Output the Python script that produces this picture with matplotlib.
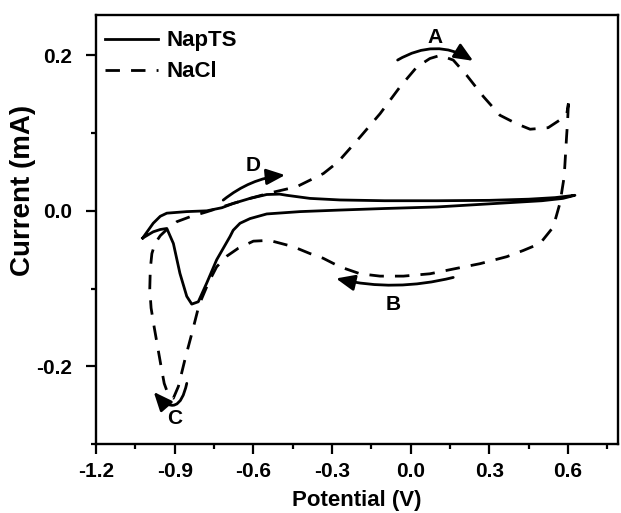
import matplotlib
matplotlib.use("Agg")
import matplotlib.pyplot as plt
from matplotlib.ticker import MultipleLocator, FormatStrFormatter

plt.rcParams['font.family'] = ['Liberation Sans', 'DejaVu Sans']
plt.rcParams['font.weight'] = 'bold'
plt.rcParams['axes.unicode_minus'] = False

# NapTS (solid) CV loop: upper branch left->right, lower branch right->left
napts_x = [-1.022, -0.982, -0.955, -0.93, -0.854, -0.778, -0.72, -0.677, -0.613, -0.549, -0.50, -0.473,
           -0.384, -0.27, -0.10, 0.10, 0.30, 0.45, 0.55, 0.626,
           0.58, 0.50, 0.30, 0.10, -0.10, -0.27, -0.422, -0.549, -0.613, -0.651, -0.677, -0.689,
           -0.74, -0.778, -0.81, -0.835, -0.854, -0.88, -0.905, -0.93, -0.955, -0.982, -1.022]
napts_y = [-0.035, -0.016, -0.007, -0.003, -0.001, 0.000, 0.004, 0.0095, 0.016, 0.021, 0.0215, 0.020,
           0.016, 0.014, 0.013, 0.013, 0.0135, 0.015, 0.017, 0.020,
           0.016, 0.013, 0.009, 0.005, 0.003, 0.001, -0.001, -0.004, -0.010, -0.016, -0.025, -0.033,
           -0.063, -0.093, -0.117, -0.120, -0.110, -0.0805, -0.042, -0.0227, -0.024, -0.027, -0.035]

# NaCl (dashed) CV loop: from right vertex down, cathodic sweep leftwards, anodic sweep rightwards
nacl_x = [0.601, 0.598, 0.594, 0.585, 0.569, 0.543, 0.493, 0.429, 0.366, 0.264, 0.175, 0.073, -0.028,
          -0.117, -0.193, -0.27, -0.334, -0.384, -0.449, -0.539, -0.60, -0.657, -0.70, -0.74, -0.772,
          -0.807, -0.834, -0.86, -0.886, -0.905, -0.925, -0.94, -0.952, -0.965, -0.978, -0.99, -0.995,
          -0.993, -0.987, -0.975, -0.955, -0.93, -0.892, -0.842, -0.778, -0.72, -0.677, -0.613, -0.537,
          -0.435, -0.333, -0.277, -0.193, -0.117, -0.041, 0.023, 0.073, 0.112, 0.162, 0.213, 0.277,
          0.34, 0.404, 0.455, 0.524, 0.569, 0.595, 0.601]
nacl_y = [0.138, 0.115, 0.095, 0.044, 0.010, -0.021, -0.042, -0.051, -0.059, -0.068, -0.074, -0.081, -0.084,
          -0.084, -0.081, -0.072, -0.061, -0.055, -0.046, -0.038, -0.039, -0.048, -0.058, -0.072, -0.093,
          -0.121, -0.157, -0.190, -0.226, -0.241, -0.236, -0.222, -0.200, -0.175, -0.150, -0.125, -0.100,
          -0.075, -0.055, -0.042, -0.032, -0.024, -0.014, -0.0077, -0.0013, 0.005, 0.0095, 0.016, 0.023,
          0.031, 0.048, 0.063, 0.095, 0.125, 0.1595, 0.185, 0.196, 0.200, 0.194, 0.1745, 0.147,
          0.123, 0.112, 0.105, 0.107, 0.117, 0.125, 0.138]

series_labels = ['NapTS', 'NaCl']
xticks = [-1.2, -0.9, -0.6, -0.3, 0.0, 0.3, 0.6]
yticks = [-0.2, 0.0, 0.2]

fig = plt.figure(figsize=(6.21, 5.13), dpi=100)
ax = fig.add_axes([0.1546, 0.1345, 0.8405, 0.8363])

ax.plot(napts_x, napts_y, color='black', lw=2.0, label=series_labels[0])
ax.plot(nacl_x, nacl_y, color='black', lw=2.0, linestyle=(0, (5.2, 4.0)), label=series_labels[1])

ax.set_xlim(-1.2, 0.79)
ax.set_ylim(-0.3, 0.252)
ax.set_xticks(xticks)
ax.set_yticks(yticks)
ax.xaxis.set_minor_locator(MultipleLocator(0.15))
ax.yaxis.set_minor_locator(MultipleLocator(0.1))
ax.xaxis.set_major_formatter(FormatStrFormatter('%.1f'))
ax.yaxis.set_major_formatter(FormatStrFormatter('%.1f'))
ax.tick_params(which='major', direction='out', length=7, width=1.6, labelsize=15, pad=6)
ax.tick_params(which='minor', direction='out', length=3.6, width=1.6)
ax.tick_params(axis='y', which='major', pad=10)
for lab in ax.get_xticklabels() + ax.get_yticklabels():
    lab.set_fontweight('bold')
for s in ax.spines.values():
    s.set_linewidth(1.7)

ax.set_xlabel('Potential (V)', fontsize=16, fontweight='bold')
ax.set_ylabel('Current (mA)', fontsize=20, fontweight='bold')
ax.xaxis.set_label_coords(0.5, -0.107)
ax.yaxis.set_label_coords(-0.115, 0.592)

leg = ax.legend(loc='upper left', bbox_to_anchor=(-0.019, 1.008), frameon=False, fontsize=16,
                handlelength=2.4, handletextpad=0.35, labelspacing=0.45, borderaxespad=0.55, borderpad=0.3)
for t in leg.get_texts():
    t.set_fontweight('bold')

arrow_kw = dict(arrowstyle='-|>,head_length=0.75,head_width=0.32', color='black', lw=2.0,
                mutation_scale=15, shrinkA=0, shrinkB=0)
# A
ax.annotate('', xy=(0.238, 0.193), xytext=(-0.05, 0.194),
            arrowprops=dict(connectionstyle='arc3,rad=-0.3', **arrow_kw))
ax.text(0.092, 0.223, 'A', fontsize=15, fontweight='bold', ha='center', va='center')
# B
ax.annotate('', xy=(-0.285, -0.087), xytext=(0.162, -0.0857),
            arrowprops=dict(connectionstyle='arc3,rad=-0.12', **arrow_kw))
ax.text(-0.066, -0.12, 'B', fontsize=15, fontweight='bold', ha='center', va='center')
# C
ax.annotate('', xy=(-0.98, -0.233), xytext=(-0.854, -0.222),
            arrowprops=dict(connectionstyle='arc3,rad=-1.0', **arrow_kw))
ax.text(-0.899, -0.267, 'C', fontsize=15, fontweight='bold', ha='center', va='center')
# D
ax.annotate('', xy=(-0.479, 0.046), xytext=(-0.715, 0.0138),
            arrowprops=dict(connectionstyle='arc3,rad=-0.15', **arrow_kw))
ax.text(-0.6, 0.058, 'D', fontsize=15, fontweight='bold', ha='center', va='center')

fig.savefig('out.png', dpi=100)
